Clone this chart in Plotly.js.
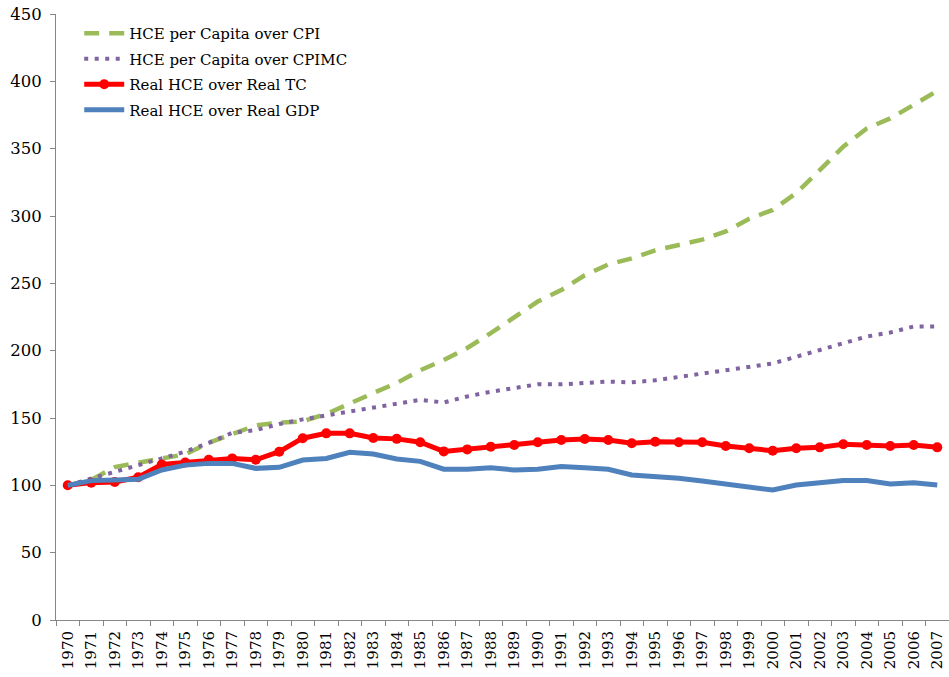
<!DOCTYPE html>
<html>
<head>
<meta charset="utf-8">
<script src="https://cdn.plot.ly/plotly-3.0.1.min.js"></script>
<style>html,body{margin:0;padding:0;background:#fff;}#chart{width:949px;height:677px;}</style>
</head>
<body>
<div id="chart"></div>
<script>
const years = ["1970","1971","1972","1973","1974","1975","1976","1977","1978","1979",
  "1980","1981","1982","1983","1984","1985","1986","1987","1988","1989",
  "1990","1991","1992","1993","1994","1995","1996","1997","1998","1999",
  "2000","2001","2002","2003","2004","2005","2006","2007"];

const hcePerCapitaCPI = [100,104,113.5,117,120,123,131.5,138,144.5,146.5,
  147.5,153,161,168.5,176,185.5,193,202,213,225,
  236.5,245,256,264,268.5,274.5,278.5,282.5,288.5,298,
  304.5,317,334,351.5,365,372.5,382.5,393];

const hcePerCapitaCPIMC = [100,105,110,115,120.5,125,131.5,139,141,145.5,
  149,152,154.5,158,161,163.5,161.5,166,169.5,172.5,
  175,175,176,177,176.5,178,180.5,183,185,188,
  190.5,195.5,200.5,206,210.5,213.5,218,218];

const realHceOverRealTC = [100,102,102.5,106,115.5,117,119,120,119,125,
  135,138.6,138.6,135.2,134.5,132,125.2,126.7,128.7,130,
  132,133.7,134.4,133.7,131.2,132.4,132,132,129.2,127.5,
  125.7,127.5,128.2,130.5,130,129.2,130,128.2];

const realHceOverRealGDP = [100,103.5,104,104.5,111.4,115,116.3,116.3,112.6,113.4,
  118.8,120,124.5,123.2,119.5,117.8,112,112,113,111.4,
  112,113.9,113,111.9,107.7,106.9,105.2,103.2,101,99,
  96.5,100.2,102,103.5,103.5,101,102,100.2];

const names = ["HCE per Capita over CPI","HCE per Capita over CPIMC","Real HCE over Real TC","Real HCE over Real GDP"];

const SERIF = "'Liberation Serif', 'DejaVu Serif', serif";

const traces = [
  {x: years, y: hcePerCapitaCPI, name: names[0], legendgroup: "a", type: "scatter", mode: "lines",
   line: {color: "#9BBB59", width: 4.5, dash: "15px,10px"}},
  {x: years, y: hcePerCapitaCPIMC, name: names[1], legendgroup: "b", type: "scatter", mode: "lines",
   line: {color: "#8064A2", width: 4, dash: "4px,6.5px"}},
  {x: years, y: realHceOverRealTC, name: names[2], legendgroup: "c", type: "scatter", mode: "lines+markers",
   line: {color: "#FF0000", width: 5}, marker: {color: "#FF0000", size: 10, symbol: "circle"}},
  {x: years, y: realHceOverRealGDP, name: names[3], legendgroup: "d", type: "scatter", mode: "lines",
   line: {color: "#4F81BD", width: 5}}
];

const layout = {
  width: 949, height: 677,
  margin: {l: 56, r: 0, t: 14, b: 57, pad: 0},
  paper_bgcolor: "#fff", plot_bgcolor: "#fff",
  font: {family: "DejaVu Serif", color: "#000", size: 16},
  showlegend: true,
  legend: {x: 0.026, y: 0.995, xanchor: "left", yanchor: "top", bgcolor: "rgba(0,0,0,0)",
    font: {family: "DejaVu Serif", size: 15, color: "#000"},
    traceorder: "grouped", tracegroupgap: 3, itemwidth: 40},
  xaxis: {type: "category", range: [-0.5, 37.5], autorange: false,
    tickmode: "linear", tick0: 0, dtick: 1,
    tickson: "boundaries", ticks: "outside", ticklen: 5, ticklabelstandoff: 4,
    tickcolor: "#868686", showline: true, linecolor: "#868686", linewidth: 1,
    showgrid: false, zeroline: false, tickangle: -90,
    tickfont: {family: "DejaVu Serif", size: 15, color: "#000"}},
  yaxis: {range: [0, 450], autorange: false, dtick: 50, ticks: "outside", ticklen: 5, ticklabelstandoff: 5,
    tickcolor: "#868686", showline: true, linecolor: "#868686", linewidth: 1,
    showgrid: false, zeroline: false,
    tickfont: {family: "DejaVu Serif", size: 16.5, color: "#000"}}
};

Plotly.newPlot("chart", traces, layout, {displayModeBar: false, staticPlot: true});
</script>
</body>
</html>
